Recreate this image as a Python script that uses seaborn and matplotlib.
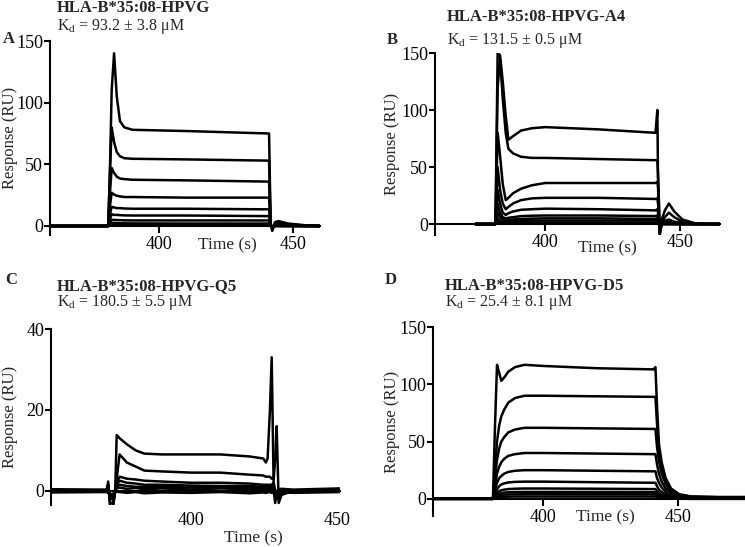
import matplotlib
matplotlib.use("Agg")
import matplotlib.pyplot as plt
import seaborn as sns
import pandas as pd

# ---------------- data ----------------
titles = ["HLA-B*35:08-HPVG", "HLA-B*35:08-HPVG-A4",
          "HLA-B*35:08-HPVG-Q5", "HLA-B*35:08-HPVG-D5"]
kd_texts = ["93.2 ± 3.8", "131.5 ± 0.5", "180.5 ± 5.5", "25.4 ± 8.1"]
letters = ["A", "B", "C", "D"]
yticks_A = [0, 50, 100, 150]
yticks_B = [0, 50, 100, 150]
yticks_C = [0, 20, 40]
yticks_D = [0, 50, 100, 150]
xticks = [400, 450]

# Panel A: key time points (s) and responses (RU) of each curve
tA = [359, 381.0, 381.6, 382.3, 383.2, 384.2, 385.4, 387.0, 390, 410, 441.0,
      441.6, 442.2, 443.2, 444.5, 448, 455, 460]
A1 = [0, 0, 40, 110, 140, 105, 85, 80, 78, 77, 75, 2, -4, 3, 4, 2, 0.5, 0]
A2 = [0, 0, 40, 80, 68, 60, 56.5, 55, 54.5, 54, 53, 1, -3, 2, 2.5, 1.5, 0.3, 0]
A3 = [0, 0, 25, 47, 43, 40, 38.5, 38, 37.5, 37, 36, 1, -2, 1.5, 2, 1, 0.2, 0]
A4 = [0, 0, 15, 27, 25.5, 24.5, 24, 23.5, 23.5, 23, 23, 0.5, -1.5, 1, 1, 0.5, 0, 0]
A5 = [0, 0, 9, 15.5, 15, 14.5, 14.5, 14.2, 14, 14, 13.5, 0.5, -1, 0.5, 0.5, 0.3, 0, 0]
A6 = [0, 0, 5, 9.5, 9, 9, 8.8, 8.6, 8.5, 8.5, 8, 0, -1, 0.3, 0.3, 0, 0, 0]
A7 = [0, 0, 3, 5, 5, 4.8, 4.7, 4.6, 4.5, 4.5, 4.5, 0, -0.5, 0, 0, 0, 0, 0]
A8 = [0, 0, 1.5, 2.5, 2.5, 2.3, 2.2, 2.2, 2.1, 2, 2, 0, 0, 0, 0, 0, 0, 0]
A9 = [0, 0, 0.5, 1, 1, 1, 1, 1, 1, 1, 1, 0, 0, 0, 0, 0, 0, 0]

# Panel B
tB = [374, 381.5, 382.3, 383.2, 384.2, 385.3, 386.3, 388, 391, 395, 400, 420,
      441.0, 441.7, 442.1, 442.6, 443.5, 444.5, 446, 448, 451, 456, 465]
B1 = [0, 0, 150, 148, 125, 95, 74, 77, 82, 84, 85, 83, 80, 100, 5, -9, 5, 12, 18, 11, 4, 0.5, 0]
B2 = [0, 0, 120, 145, 110, 80, 66, 62, 59, 58, 58, 57, 56, 56, 35, -9, 3, 6, 10, 6, 2, 0.3, 0]
B3 = [0, 0, 80, 60, 35, 21, 23, 27, 31, 34, 36, 36, 36, 37, 30, -8, 2, 3, 4, 2, 1, 0, 0]
B4 = [0, 0, 50, 30, 18, 13, 15, 18, 21, 22.5, 23, 23, 22, 22.5, 15, -6, 1, 1.5, 2, 1, 0.5, 0, 0]
B5 = [0, 0, 30, 18, 10, 8, 9.5, 11, 12.5, 13, 13.5, 13, 12, 13, 8, -4, 0.5, 1, 1, 0.5, 0, 0, 0]
B6 = [0, 0, 18, 10, 6, 5, 5.5, 6, 7, 7.3, 7.5, 7.5, 7, 7.5, 4, -3, 0, 0.5, 0.5, 0, 0, 0, 0]
B7 = [0, 0, 10, 6, 4, 3, 3.5, 4, 4.5, 4.8, 5, 5, 4.5, 5, 2, -2, 0, 0, 0, 0, 0, 0, 0]
B8 = [0, 0, 5, 3, 2, 1.5, 2, 2.5, 2.8, 3, 3, 3, 3, 3, 1, -1, 0, 0, 0, 0, 0, 0, 0]
B9 = [0, 0, 2, 1, 1, 1, 1, 1, 1, 1, 1, 1, 1, 1, 0.5, -1, 0, 0, 0, 0, 0, 0, 0]

# Panel C
tC = [352, 371.0, 371.6, 372.3, 373.2, 374.0, 374.5, 375.5, 378, 381, 384, 390,
      400, 410, 420, 424.7, 425.6, 426.2, 427.0, 427.6, 428.3, 428.8, 429.3,
      430, 431, 435, 451]
C1 = [0, 0, 2.3, -4, -4, 0, 13.8, 13, 11.5, 10, 9.2, 9, 9, 9, 8.5, 8, 7, 8, 20, 33,
      0, -3, 0, -1, 0, 0, 0]
C2 = [0, 0, 1.5, -4, -4, 0, 3, 9, 7, 6, 5, 4.8, 4.5, 4.5, 4, 3.8, 3.5, 3.5, 3.5, 3,
      3, 8, 16, -3, -1, 0, 0]
C3 = [0, 0, 1, -3, -3, 0, 2, 3.5, 3, 2.8, 2.5, 2.3, 2, 2, 1.8, 1.5, 1.5, 1.5, 1.5,
      1.5, 2, 0, -2, -2, -0.5, 0, 0]
C4 = [0, 0, 0.5, -2, -2, 0, 1.5, 2.5, 2, 1.8, 1.5, 1.5, 1.3, 1.2, 1.2, 1, 1, 1, 1, 1,
      1, 0, -1.5, -1, 0, 0, 0]
C5 = [0, 0, 0.5, -1.5, -1.5, 0, 1, 1.5, 1.2, 1, 1, 1, 0.8, 0.8, 0.8, 0.7, 0.7, 0.7,
      0.7, 0.7, 0.5, 0, -1, -0.5, 0, 0, 0]
C6 = [0.4, 0.3, 0.6, -1, -1, 0.4, 0.6, 0.8, 0.5, 0.7, 0.4, 0.6, 0.3, 0.6, 0.4, 0.5,
      0.4, 0.4, 0.5, 0.4, 0.3, -1, -0.5, 0.4, 0.5, 0.3, 0.6]
C7 = [-0.4, -0.3, -0.5, -0.8, -0.8, -0.4, -0.2, -0.3, -0.5, -0.3, -0.6, -0.4, -0.5,
      -0.3, -0.6, -0.4, -0.5, -0.4, -0.3, -0.5, -0.4, -1.5, -1, -0.6, -0.4, -0.5, -0.3]

# Panel D
tD = [359, 381.3, 382.0, 382.8, 383.6, 384.4, 385.5, 387, 389.5, 393, 400, 420,
      441.0, 441.7, 442.3, 443.0, 444.0, 445.5, 447.5, 450.5, 455, 465, 475]
D1 = [0, 0, 60, 117, 110, 103, 106, 111, 115, 117, 116, 114, 113, 115, 80, 48, 32, 18, 9, 4, 2, 1.5, 1.5]
D2 = [0, 0, 25, 50, 64, 72, 78, 84, 88, 90, 90, 89.5, 89, 89, 65, 42, 28, 16, 8, 3.5, 2, 1.5, 1.5]
D3 = [0, 0, 17, 34, 44, 50, 54, 58, 60.5, 62, 62, 61.5, 61, 61, 45, 33, 22, 13, 6.5, 3, 1.5, 1, 1]
D4 = [0, 0, 11, 22, 28, 32, 35, 37.5, 39, 40, 40, 39.5, 39, 39, 30, 22, 15, 9, 5, 2.5, 1, 1, 1]
D5 = [0, 0, 7, 14, 18, 20, 22, 23.5, 24.5, 25, 25, 24.5, 24, 24, 18, 14, 10, 6, 3, 1.5, 1, 0.5, 0.5]
D6 = [0, 0, 4, 8, 11, 12.5, 13.5, 14.3, 14.8, 15, 15, 14.5, 14, 14, 11, 8, 6, 3.5, 2, 1, 0.5, 0.5, 0.5]
D7 = [0, 0, 2.5, 5, 6.5, 7.5, 8, 8.5, 8.8, 9, 9, 8.8, 8.5, 8.5, 6.5, 5, 3.5, 2, 1, 0.5, 0.3, 0.3, 0.3]
D8 = [0, 0, 1.7, 3.3, 4.3, 5, 5.4, 5.7, 5.9, 6, 6, 6, 5.8, 5.8, 4.5, 3.3, 2.5, 1.5, 0.8, 0.3, 0.2, 0.2, 0.2]
D9 = [0, 0, 1.1, 2.2, 2.9, 3.3, 3.6, 3.8, 3.9, 4, 4, 4, 3.9, 3.9, 3, 2.2, 1.6, 1, 0.5, 0.2, 0, 0, 0]
D10 = [0, 0, 0.5, 1.1, 1.5, 1.7, 1.8, 1.9, 2, 2, 2, 2, 2, 2, 1.5, 1.1, 0.8, 0.5, 0.3, 0.1, 0, 0, 0]

panels = [
    (tA, [A1, A2, A3, A4, A5, A6, A7, A8, A9], yticks_A),
    (tB, [B1, B2, B3, B4, B5, B6, B7, B8, B9], yticks_B),
    (tC, [C1, C2, C3, C4, C5, C6, C7], yticks_C),
    (tD, [D1, D2, D3, D4, D5, D6, D7, D8, D9, D10], yticks_D),
]

# ---------------- style ----------------
sns.set_style("ticks")
plt.rcParams["font.family"] = ["Liberation Serif", "DejaVu Serif"]
plt.rcParams["mathtext.fontset"] = "custom"
plt.rcParams["mathtext.rm"] = "Liberation Serif"
plt.rcParams["mathtext.it"] = "Liberation Serif:italic"

W, H = 745, 547
fig = plt.figure(figsize=(W / 100, H / 100), dpi=100)

def fx(px):
    return px / W

def fy(py):
    return 1 - py / H

# layout in pixels: (left, top, right, bottom), xlim, ylim
layout = [
    dict(box=(50, 41, 320, 235), xlim=(359.3, 460), ylim=(-7.3, 150),
         title=(57, 8), kd=(57, 27), letter=(3, 39), timelab=(227, 245),
         ylab=10, ticklen=5, xpad=2),
    dict(box=(435, 53, 720, 235), xlim=(359, 465), ylim=(-9.6, 150),
         title=(447, 17), kd=(447, 40), letter=(387, 40), timelab=(607, 248),
         ylab=392, ticklen=5, xpad=2),
    dict(box=(51, 329, 340, 505), xlim=(352, 451), ylim=(-3.5, 40),
         title=(57, 286), kd=(57, 302), letter=(5, 280), timelab=(253, 538),
         ylab=10, ticklen=0, xpad=15),
    dict(box=(433, 327, 745, 516), xlim=(359, 475), ylim=(-15, 150),
         title=(445, 286), kd=(445, 303), letter=(385, 280), timelab=(605, 517),
         ylab=392, ticklen=5, xpad=2),
]

for i, ((tt, curves, yt), lay) in enumerate(zip(panels, layout)):
    l, t, r, b = lay["box"]
    ax = fig.add_axes([fx(l), fy(b), fx(r) - fx(l), fy(t) - fy(b)])
    rows = []
    for k, vals in enumerate(curves):
        for tv, vv in zip(tt, vals):
            rows.append((k, tv, vv))
    df = pd.DataFrame(rows, columns=["curve", "time", "response"])
    sns.lineplot(data=df, x="time", y="response", units="curve", estimator=None,
                 color="black", linewidth=1.8, sort=False, ax=ax, legend=False)
    ax.set_xlim(*lay["xlim"])
    ax.set_ylim(*lay["ylim"])
    ax.set_xticks(xticks)
    ax.set_yticks(yt)
    ax.spines["top"].set_visible(False)
    ax.spines["right"].set_visible(False)
    ax.spines["bottom"].set_position(("data", 0))
    for s in ("left", "bottom"):
        ax.spines[s].set_linewidth(1.5)
        ax.spines[s].set_color("black")
    ax.tick_params(axis="y", length=4, width=1.5, labelsize=13, pad=1, colors="black")
    ax.tick_params(axis="x", length=lay["ticklen"], width=1.5, labelsize=13,
                   pad=lay["xpad"], colors="black")
    ax.set_xlabel("")
    ax.set_ylabel("")
    fig.text(fx(lay["ylab"]), fy((t + b) / 2), "Response (RU)", rotation=90,
             ha="center", va="center", fontsize=12)
    fig.text(fx(lay["timelab"][0]), fy(lay["timelab"][1]), "Time (s)",
             ha="center", va="center", fontsize=12.5)
    fig.text(fx(lay["title"][0]), fy(lay["title"][1]), titles[i],
             ha="left", va="center", fontsize=12, fontweight="bold")
    fig.text(fx(lay["kd"][0]), fy(lay["kd"][1]),
             r"K$_{\mathrm{d}}$ = " + kd_texts[i] + " μM",
             ha="left", va="center", fontsize=11.5)
    fig.text(fx(lay["letter"][0]), fy(lay["letter"][1]), letters[i],
             ha="left", va="center", fontsize=12, fontweight="bold")

fig.savefig("out.png", dpi=100)
